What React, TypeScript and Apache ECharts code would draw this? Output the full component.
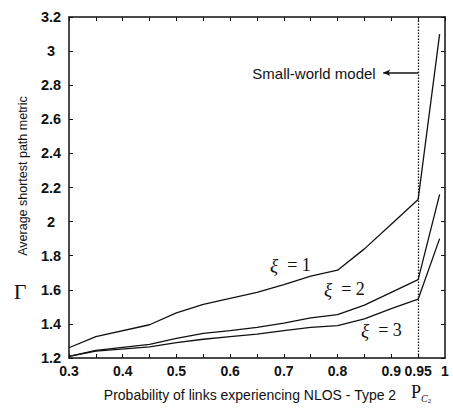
import React, { useEffect, useRef } from "react";
import * as echarts from "echarts";

// Probability of NLOS (Type 2) links on the x axis
const pValues = [0.3, 0.35, 0.45, 0.5, 0.55, 0.6, 0.65, 0.7, 0.75, 0.8, 0.85, 0.9, 0.95, 0.99];

// Average shortest path metric for each ξ
const xi1 = [1.26, 1.325, 1.395, 1.465, 1.515, 1.55, 1.585, 1.63, 1.68, 1.715, 1.84, 1.985, 2.13, 3.1];
const xi2 = [1.21, 1.245, 1.28, 1.315, 1.345, 1.36, 1.38, 1.405, 1.435, 1.455, 1.51, 1.585, 1.66, 2.16];
const xi3 = [1.21, 1.24, 1.265, 1.29, 1.31, 1.325, 1.34, 1.36, 1.38, 1.39, 1.43, 1.49, 1.545, 1.9];

// Tick labels on the p axis, split into groups drawn by separate label layers
const xLabelsMain = ["0.3", "0.4", "0.5", "0.6", "0.7", "0.8"];
const xLabelsNine = ["0.9"];
const xLabelsExtra = ["0.95"];
const xLabelsEnd = ["1"];

// Small-world model marker and its annotation arrow
const smallWorldP = 0.95;
const arrowFrom = [0.95, 2.873];
const arrowTo = [0.885, 2.873];

const INK = "#111";
const SANS = "'Liberation Sans', Arial, sans-serif";
const SERIF = "'Liberation Serif', 'Times New Roman', serif";

const toPairs = (ys: number[]) => pValues.map((p, i) => [p, ys[i]]);

export default function App() {
  const ref = useRef<HTMLDivElement>(null);

  useEffect(() => {
    if (!ref.current) return;
    document.body.style.margin = "0";
    const chart = echarts.init(ref.current, undefined, { renderer: "svg" });

    const pickLabel = (list: string[]) => (v: number) => {
      const s = String(Math.round(v * 100) / 100);
      return list.includes(s) ? s : "";
    };

    const tickLabelStyle = {
      color: INK,
      fontFamily: SANS,
      fontSize: 14,
      fontWeight: "bold",
      margin: 6,
      hideOverlap: false,
    };

    const pAxisBase = {
      type: "value",
      min: 0.3,
      max: 1,
      interval: 0.05,
      splitLine: { show: false },
    };

    // label-only layer on the bottom edge
    const labelLayer = (list: string[], showMin: boolean, showMax: boolean) => ({
      ...pAxisBase,
      position: "bottom",
      axisLine: { show: false },
      axisTick: { show: false },
      axisLabel: {
        ...tickLabelStyle,
        formatter: pickLabel(list),
        showMinLabel: showMin,
        showMaxLabel: showMax,
      },
    });

    const lineSeries = (name: string, ys: number[]) => ({
      name,
      type: "line",
      data: toPairs(ys),
      symbol: "none",
      lineStyle: { color: INK, width: 1.3 },
      silent: true,
    });

    const xiLabel = (n: string, x: number, y: number) => ({
      type: "text",
      x,
      y,
      style: {
        text: "{a|ξ}{b|  = " + n + "}",
        rich: {
          a: { fontFamily: SERIF, fontStyle: "italic", fontSize: 19, fill: INK },
          b: { fontFamily: SERIF, fontSize: 18, fill: INK },
        },
        verticalAlign: "middle",
      },
    });

    chart.setOption({
      animation: false,
      backgroundColor: "#fff",
      grid: { left: 69, right: 8, top: 17, bottom: 50 },
      xAxis: [
        {
          ...pAxisBase,
          position: "bottom",
          axisLine: { lineStyle: { color: INK, width: 1.5 } },
          axisTick: { inside: true, length: 4, lineStyle: { color: INK } },
          axisLabel: {
            ...tickLabelStyle,
            formatter: pickLabel(xLabelsMain),
            showMinLabel: true,
            showMaxLabel: false,
          },
        },
        {
          ...pAxisBase,
          position: "top",
          axisLine: { lineStyle: { color: INK, width: 1.5 } },
          axisTick: { inside: true, length: 4, lineStyle: { color: INK } },
          axisLabel: { show: false },
        },
        labelLayer(xLabelsNine, false, false),
        labelLayer(xLabelsExtra, false, false),
        labelLayer(xLabelsEnd, false, true),
      ],
      yAxis: [
        {
          type: "value",
          min: 1.2,
          max: 3.2,
          interval: 0.2,
          position: "left",
          axisLine: { show: true, lineStyle: { color: INK, width: 1.5 } },
          axisTick: { show: true, inside: true, length: 4, lineStyle: { color: INK } },
          axisLabel: {
            color: INK,
            fontFamily: SANS,
            fontSize: 14.5,
            fontWeight: "bold",
            align: "center",
            margin: 18,
          },
          splitLine: { show: false },
        },
        {
          type: "value",
          min: 1.2,
          max: 3.2,
          interval: 0.2,
          position: "right",
          axisLine: { show: true, lineStyle: { color: INK, width: 1.5 } },
          axisTick: { show: true, inside: true, length: 4, lineStyle: { color: INK } },
          axisLabel: { show: false },
          splitLine: { show: false },
        },
      ],
      series: [
        {
          ...lineSeries("ξ = 1", xi1),
          markLine: {
            silent: true,
            animation: false,
            symbol: "none",
            label: { show: false },
            data: [
              {
                xAxis: smallWorldP,
                lineStyle: { type: [1.5, 1.5], color: INK, width: 1.3 },
              },
              [
                {
                  coord: arrowFrom,
                  symbol: "none",
                  lineStyle: { type: "solid", color: INK, width: 1.6 },
                },
                { coord: arrowTo, symbol: "arrow", symbolSize: [5, 7] },
              ],
            ],
          },
        },
        lineSeries("ξ = 2", xi2),
        lineSeries("ξ = 3", xi3),
      ],
      graphic: [
        xiLabel("1", 270, 265),
        xiLabel("2", 324, 289),
        xiLabel("3", 361, 330),
        {
          type: "text",
          x: 314,
          y: 73,
          style: {
            text: "Small-world model",
            fontFamily: SANS,
            fontSize: 15,
            fill: INK,
            align: "center",
            verticalAlign: "middle",
          },
        },
        {
          type: "text",
          x: 23,
          y: 176,
          rotation: Math.PI / 2,
          style: {
            text: "Average shortest path metric",
            fontFamily: SANS,
            fontSize: 12.5,
            fill: INK,
            align: "center",
            verticalAlign: "middle",
          },
        },
        {
          type: "text",
          x: 20,
          y: 291,
          style: {
            text: "Γ",
            fontFamily: SERIF,
            fontSize: 22,
            fill: INK,
            align: "center",
            verticalAlign: "middle",
          },
        },
        {
          type: "text",
          x: 250,
          y: 395,
          style: {
            text: "Probability of links experiencing NLOS - Type 2",
            fontFamily: SANS,
            fontSize: 14,
            fill: INK,
            align: "center",
            verticalAlign: "middle",
          },
        },
        {
          type: "text",
          x: 411,
          y: 383,
          style: {
            text: "{p|P}{c|C}{n|2}",
            rich: {
              p: { fontFamily: SERIF, fontSize: 18, fill: INK, verticalAlign: "top" },
              c: { fontFamily: SERIF, fontStyle: "italic", fontSize: 10, fill: INK, padding: [10, 0, 0, 0] },
              n: { fontFamily: SERIF, fontSize: 7, fill: INK, padding: [14, 0, 0, 0] },
            },
          },
        },
      ],
    });

    return () => chart.dispose();
  }, []);

  return <div ref={ref} style={{ width: 453, height: 408 }} />;
}
